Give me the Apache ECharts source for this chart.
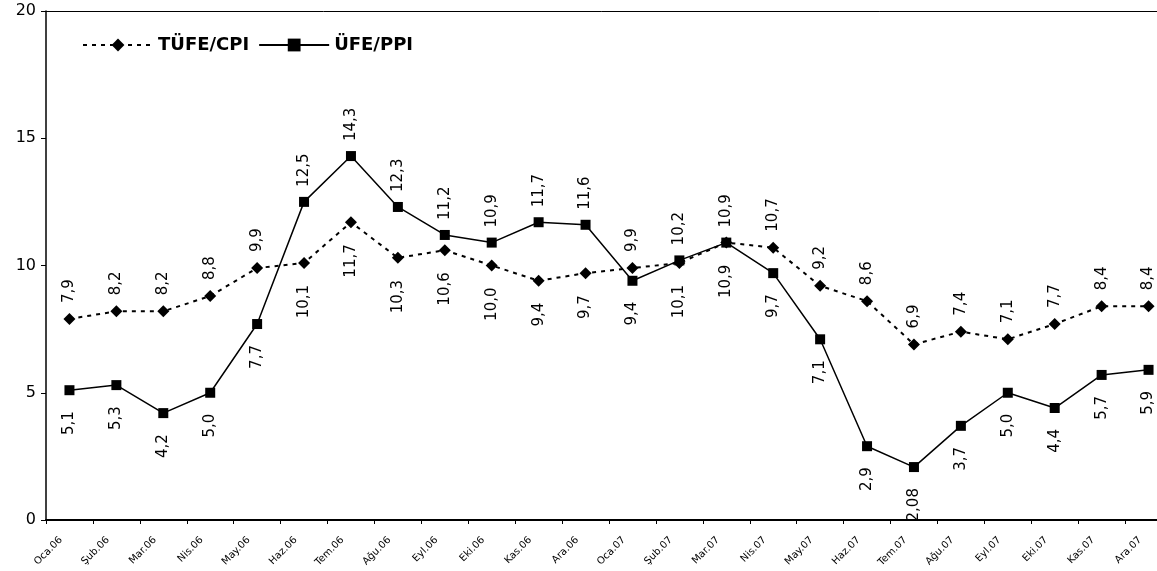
<!DOCTYPE html>
<html>
<head>
<meta charset="utf-8">
<script src="https://cdn.jsdelivr.net/npm/echarts@6/dist/echarts.min.js"></script>
<style>
  html, body { margin: 0; padding: 0; background: #fff; }
  #chart { width: 1157px; height: 571px; }
</style>
</head>
<body>
<div id="chart"></div>
<script>
// aylar (x ekseni)
const months = ['Oca.06', 'Şub.06', 'Mar.06', 'Nis.06', 'May.06', 'Haz.06', 'Tem.06', 'Ağu.06',
  'Eyl.06', 'Eki.06', 'Kas.06', 'Ara.06', 'Oca.07', 'Şub.07', 'Mar.07', 'Nis.07', 'May.07',
  'Haz.07', 'Tem.07', 'Ağu.07', 'Eyl.07', 'Eki.07', 'Kas.07', 'Ara.07']

const cpiValues = [7.9, 8.2, 8.2, 8.8, 9.9, 10.1, 11.7, 10.3, 10.6, 10.0, 9.4, 9.7,
  9.9, 10.1, 10.9, 10.7, 9.2, 8.6, 6.9, 7.4, 7.1, 7.7, 8.4, 8.4]
const ppiValues = [5.1, 5.3, 4.2, 5.0, 7.7, 12.5, 14.3, 12.3, 11.2, 10.9, 11.7, 11.6,
  9.4, 10.2, 10.9, 9.7, 7.1, 2.9, 2.08, 3.7, 5.0, 4.4, 5.7, 5.9]

// etiket yönü: 1 = üstte, 0 = altta
const cpiLabelUp = [1, 1, 1, 1, 1, 0, 0, 0, 0, 0, 0, 0, 1, 0, 0, 1, 1, 1, 1, 1, 1, 1, 1, 1]
const ppiLabelUp = [0, 0, 0, 0, 0, 1, 1, 1, 1, 1, 1, 1, 0, 1, 1, 0, 0, 0, 0, 0, 0, 0, 0, 0]

const yTicks = [0, 5, 10, 15, 20]

const FONT = 'DejaVu Sans'

function fmt(v) {
  return v === 2.08 ? '2,08' : v.toFixed(1).replace('.', ',')
}

function buildData(values, upFlags) {
  return values.map((v, i) => ({
    value: v,
    label: upFlags[i]
      ? { position: 'top', align: 'left', distance: 10 }
      : { position: 'bottom', align: 'right', distance: 16 }
  }))
}

const labelBase = {
  show: true,
  rotate: 90,
  verticalAlign: 'middle',
  fontFamily: FONT,
  fontSize: 15,
  color: '#000',
  formatter: p => fmt(p.value)
}

const chart = echarts.init(document.getElementById('chart'))
chart.setOption({
  animation: false,
  backgroundColor: '#fff',
  textStyle: { fontFamily: FONT },
  // sağ kenar resmin dışına taşıyor (orijinalde kırpılmış)
  grid: { left: 46, right: -15, top: 11, bottom: 51, outerBoundsMode: 'none', containLabel: false },
  legend: {
    left: 77, top: 31,
    itemWidth: 70, itemHeight: 16, itemGap: 9,
    textStyle: { fontFamily: FONT, fontSize: 18, fontWeight: 'bold', color: '#000' },
    data: ['TÜFE/CPI', 'ÜFE/PPI']
  },
  xAxis: [{
    type: 'category',
    data: months,
    boundaryGap: true,
    axisLine: { lineStyle: { color: '#000', width: 2 } },
    axisTick: { show: true, length: 4, lineStyle: { color: '#000' } },
    axisLabel: {
      interval: 0, rotate: 45, fontSize: 10, color: '#000', margin: 10,
      padding: [0, 12, 0, 0], fontFamily: FONT
    }
  }, {
    type: 'category',
    data: months,
    position: 'top',
    axisLine: { show: true, lineStyle: { color: '#000', width: 1 } },
    axisTick: { show: false },
    axisLabel: { show: false }
  }],
  yAxis: {
    type: 'value',
    min: yTicks[0], max: yTicks[yTicks.length - 1], interval: 5,
    axisLine: { show: true, lineStyle: { color: '#000', width: 1.5 } },
    axisTick: { show: true, length: 5, lineStyle: { color: '#000' } },
    axisLabel: { fontSize: 16, color: '#000', margin: 10, fontFamily: FONT },
    splitLine: { show: false }
  },
  series: [{
    name: 'TÜFE/CPI',
    type: 'line',
    data: buildData(cpiValues, cpiLabelUp),
    symbol: 'diamond',
    symbolSize: 12,
    itemStyle: { color: '#000' },
    lineStyle: { color: '#000', width: 2, type: [4, 5] },
    label: labelBase
  }, {
    name: 'ÜFE/PPI',
    type: 'line',
    data: buildData(ppiValues, ppiLabelUp),
    symbol: 'rect',
    symbolSize: 10,
    itemStyle: { color: '#000' },
    lineStyle: { color: '#000', width: 1.5 },
    label: labelBase
  }]
})
</script>
</body>
</html>
